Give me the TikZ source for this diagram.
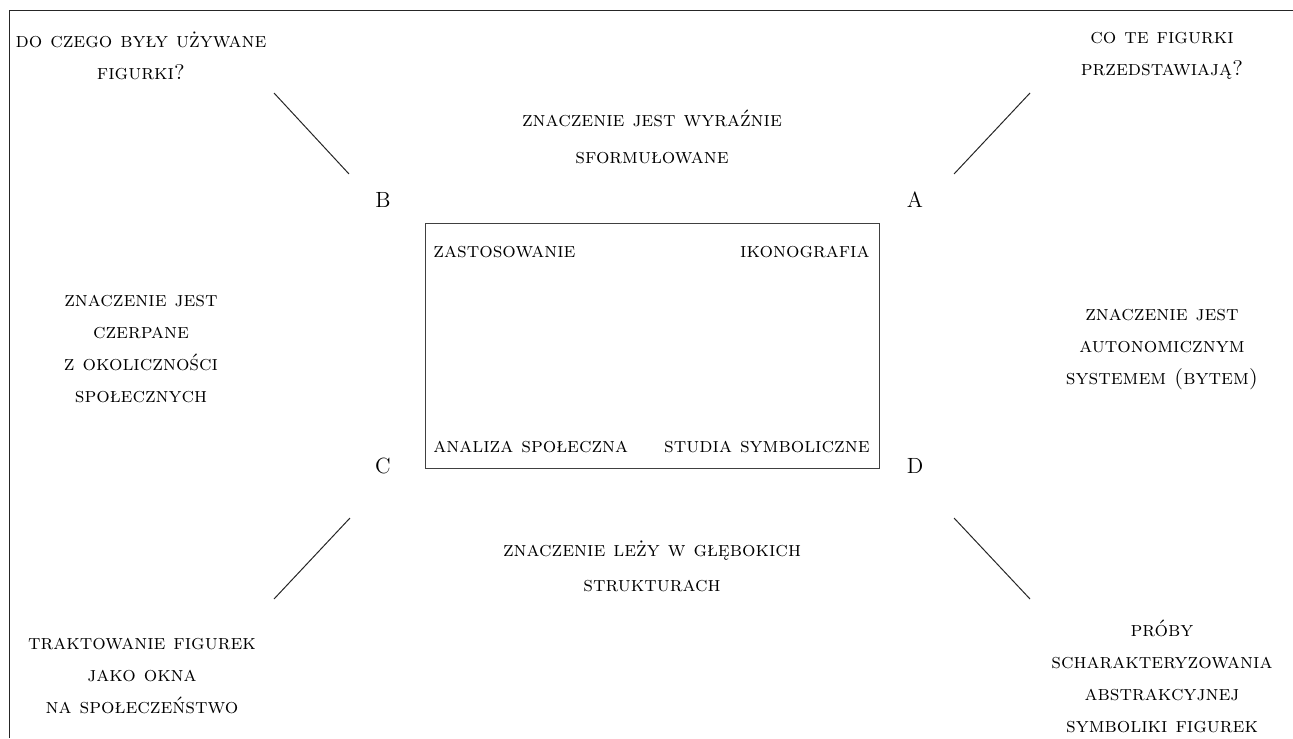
\documentclass[tikz,border=0pt]{standalone}
\usepackage{fontspec}
\usepackage{tikz}

\tikzset{
  opis/.style={font=\fontsize{10.6}{16}\selectfont\scshape, align=center, inner sep=0pt, text=black},
  pole/.style={font=\fontsize{11}{12}\selectfont, inner sep=0pt, text=black},
  kreska/.style={line width=0.5pt, black!85}
}

\begin{document}
\begin{tikzpicture}[x=0.5pt,y=0.5pt,yscale=-1,xscale=1]
    \useasboundingbox (0,0) rectangle (1293,738);
    % frame
    \draw [kreska] (9,738) -- (9,11) -- (1293,11) ;
    % central box
    \node (box) [draw, black!75, line width=0.5pt, minimum width=227pt, minimum height=122.5pt, inner sep=0pt] at (652,345.5) {};
    \node (zast) [opis, anchor=base west] at (433,257) {zastosowanie};
    \node (ikon) [opis, anchor=base east] at (870,257) {ikonografia};
    \node (anal) [opis, anchor=base west] at (433,452) {analiza społeczna};
    \node (stud) [opis, anchor=base east] at (870,452) {studia symboliczne};
    % quadrant letters
    \node (B) [pole] at (383,200) {B};
    \node (A) [pole] at (915,200) {A};
    \node (C) [pole] at (383,466) {C};
    \node (D) [pole] at (915,466) {D};
    % corner questions
    \node (qB) [opis] at (141,56) {do czego były używane\\figurki?};
    \node (qA) [opis] at (1162,56) {co te figurki\\przedstawiają?};
    \node (qC) [opis] at (142,676) {traktowanie figurek\\jako okna\\na społeczeństwo};
    \node (qD) [opis] at (1162,676) {próby\\scharakteryzowania\\abstrakcyjnej\\symboliki figurek};
    % sides
    \node (top) [opis] at (652,137) {znaczenie jest wyraźnie\\[2.5pt]sformułowane};
    \node (left) [opis] at (141,349) {znaczenie jest\\czerpane\\z okoliczności\\społecznych};
    \node (right) [opis] at (1162,350) {znaczenie jest\\autonomicznym\\systemem (bytem)};
    \node (bottom) [opis] at (652,566) {znaczenie leży w głębokich\\[1.5pt]strukturach};
    % diagonals
    \coordinate (b1) at (274,93);  \coordinate (b2) at (349,174);
    \coordinate (a1) at (1030,93); \coordinate (a2) at (954,174);
    \coordinate (c1) at (350,518); \coordinate (c2) at (274,599);
    \coordinate (d1) at (954,518); \coordinate (d2) at (1030,599);
    \draw [kreska] (b1) -- (b2) ;
    \draw [kreska] (a1) -- (a2) ;
    \draw [kreska] (c1) -- (c2) ;
    \draw [kreska] (d1) -- (d2) ;
\end{tikzpicture}
\end{document}
